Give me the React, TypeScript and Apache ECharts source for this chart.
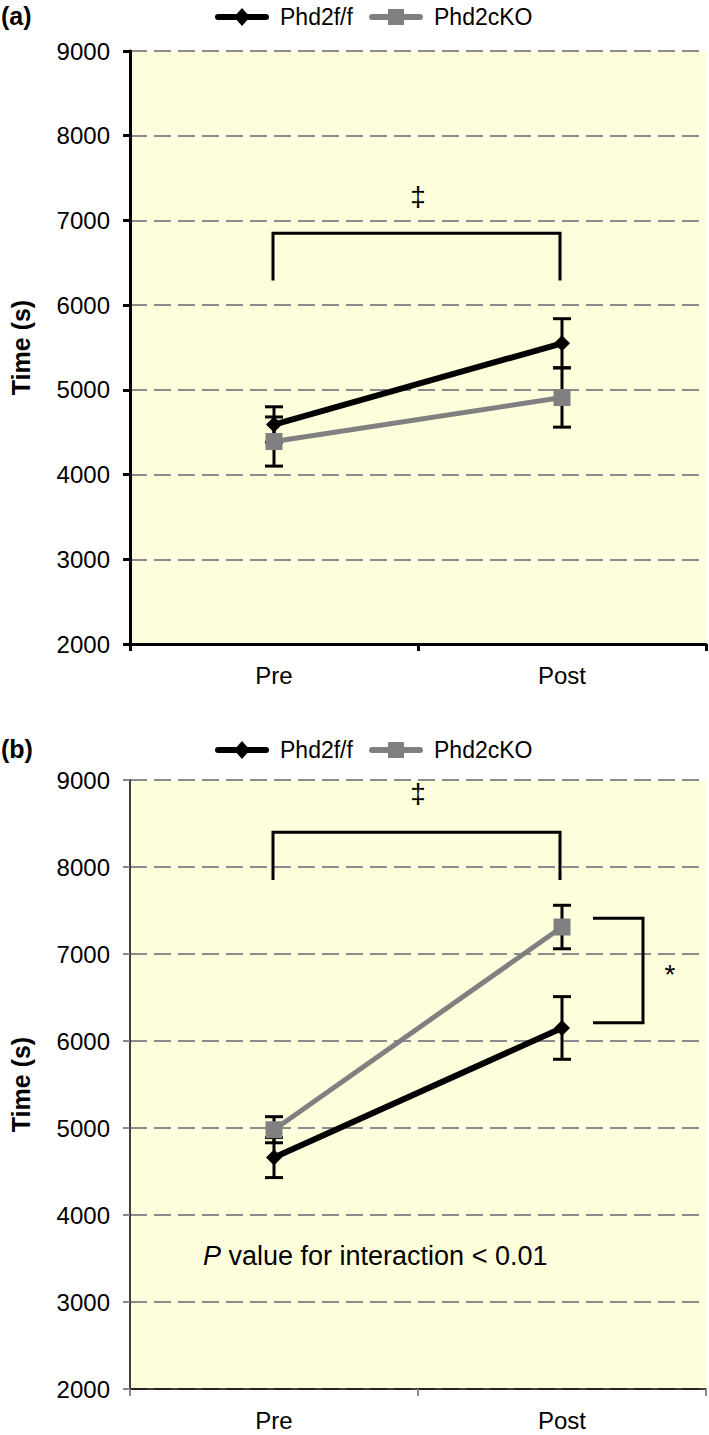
import React, { useEffect, useRef } from 'react';
import * as echarts from 'echarts';

const categories = ['Pre', 'Post'];
const seriesNames = ['Phd2f/f', 'Phd2cKO'];
const yTicksMin = 2000;
const yTicksMax = 9000;
const yTickStep = 1000;

// Panel (a)
const aWT = [4590, 5550];
const aWTErr = [210, 290];
const aKO = [4390, 4910];
const aKOErr = [290, 350];
const aBracket = [6850, 6290]; // top, leg bottom
const aDagger = [7280];

// Panel (b)
const bWT = [4660, 6150];
const bWTErr = [230, 360];
const bKO = [4980, 7310];
const bKOErr = [150, 250];
const bBracket = [8400, 7850];
const bDagger = [8850];
const bSideBracket = [7410, 6210];
const pText = 'P value for interaction < 0.01';

const FONT = 'Liberation Sans, Arial, sans-serif';
const BLACK = '#000000';
const GREY = '#808080';

function errData(vals: number[], errs: number[]) {
  return vals.map((v, i) => [i, v - errs[i], v + errs[i]]);
}

function errorSeries(gridIdx: number, vals: number[], errs: number[]) {
  return {
    type: 'custom',
    xAxisIndex: gridIdx,
    yAxisIndex: gridIdx,
    z: 1,
    silent: true,
    data: errData(vals, errs),
    renderItem: (params: any, api: any) => {
      const x = api.value(0);
      const lo = api.coord([x, api.value(1)]);
      const hi = api.coord([x, api.value(2)]);
      const hw = 9;
      const st = { stroke: BLACK, lineWidth: 3 };
      return {
        type: 'group',
        children: [
          { type: 'line', shape: { x1: lo[0], y1: lo[1], x2: hi[0], y2: hi[1] }, style: st },
          { type: 'line', shape: { x1: lo[0] - hw, y1: lo[1], x2: lo[0] + hw, y2: lo[1] }, style: st },
          { type: 'line', shape: { x1: hi[0] - hw, y1: hi[1], x2: hi[0] + hw, y2: hi[1] }, style: st },
        ],
      };
    },
  };
}

function bracketSeries(gridIdx: number, bracket: number[], dagger: number[]) {
  return {
    type: 'custom',
    xAxisIndex: gridIdx,
    yAxisIndex: gridIdx,
    z: 3,
    silent: true,
    data: [[0, 1, bracket[0], bracket[1], dagger[0]]],
    renderItem: (params: any, api: any) => {
      const l = api.coord([api.value(0), api.value(2)]);
      const r = api.coord([api.value(1), api.value(2)]);
      const lb = api.coord([api.value(0), api.value(3)]);
      const d = api.coord([api.value(0), api.value(4)]);
      const mid = (l[0] + r[0]) / 2;
      return {
        type: 'group',
        children: [
          {
            type: 'polyline',
            shape: { points: [[l[0] - 1, lb[1]], [l[0] - 1, l[1]], [r[0] - 2, r[1]], [r[0] - 2, lb[1]]] },
            style: { stroke: BLACK, lineWidth: 3, fill: null },
          },
          {
            type: 'text',
            x: mid,
            y: d[1],
            style: { text: '‡', fontSize: 28, fontFamily: FONT, fill: BLACK, align: 'center', verticalAlign: 'middle' },
          },
        ],
      };
    },
  };
}

function sideBracketSeries(gridIdx: number, bracket: number[]) {
  return {
    type: 'custom',
    xAxisIndex: gridIdx,
    yAxisIndex: gridIdx,
    z: 3,
    silent: true,
    data: [[1, bracket[0], bracket[1]]],
    renderItem: (params: any, api: any) => {
      const t = api.coord([api.value(0), api.value(1)]);
      const b = api.coord([api.value(0), api.value(2)]);
      const x0 = t[0] + 31;
      const x1 = t[0] + 81;
      return {
        type: 'group',
        children: [
          {
            type: 'polyline',
            shape: { points: [[x0, t[1]], [x1, t[1]], [x1, b[1]], [x0, b[1]]] },
            style: { stroke: BLACK, lineWidth: 3, fill: null },
          },
          {
            type: 'text',
            x: x1 + 27,
            y: (t[1] + b[1]) / 2 + 4,
            style: { text: '*', fontSize: 28, fontFamily: FONT, fill: BLACK, align: 'center', verticalAlign: 'middle' },
          },
        ],
      };
    },
  };
}

function lineSeries(gridIdx: number, name: string, vals: number[], isKO: boolean) {
  return {
    type: 'line',
    name,
    xAxisIndex: gridIdx,
    yAxisIndex: gridIdx,
    z: 2,
    data: vals,
    symbol: isKO ? 'rect' : 'diamond',
    symbolSize: isKO ? 17 : 16,
    showAllSymbol: true,
    lineStyle: { color: isKO ? GREY : BLACK, width: isKO ? 5 : 6 },
    itemStyle: { color: isKO ? GREY : BLACK },
    emphasis: { disabled: true },
  };
}

function xAxisFor(gridIdx: number, thick: boolean) {
  return {
    type: 'category',
    gridIndex: gridIdx,
    data: categories,
    boundaryGap: true,
    axisLine: { show: true, lineStyle: { color: BLACK, width: thick ? 3 : 1.5 } },
    axisTick: { show: true, length: 7, lineStyle: { color: thick ? BLACK : '#888888', width: thick ? 3 : 2 } },
    axisLabel: { fontSize: 24, color: BLACK, fontFamily: FONT, margin: 19 },
    splitLine: { show: false },
  };
}

function yAxisFor(gridIdx: number, thick: boolean) {
  return {
    type: 'value',
    gridIndex: gridIdx,
    min: yTicksMin,
    max: yTicksMax,
    interval: yTickStep,
    name: 'Time (s)',
    nameLocation: 'middle',
    nameGap: 97,
    nameRotate: 90,
    nameTextStyle: { fontSize: 25, fontWeight: 'bold', color: BLACK, fontFamily: FONT },
    axisLine: { show: true, lineStyle: { color: BLACK, width: thick ? 3 : 1.5 } },
    axisTick: { show: true, length: 7, lineStyle: { color: thick ? BLACK : '#888888', width: thick ? 3 : 2 } },
    axisLabel: { fontSize: 24, color: BLACK, fontFamily: FONT, margin: 20, formatter: (v: number) => String(v) },
    splitLine: { show: true, lineStyle: { color: '#8c8c8c', width: 2, type: [17, 7] } },
  };
}

function legendGraphics(cy: number) {
  const items: any[] = [];
  const defs = [
    { name: seriesNames[0], color: BLACK, x: 218, sym: 'diamond' },
    { name: seriesNames[1], color: GREY, x: 372, sym: 'rect' },
  ];
  defs.forEach((d) => {
    items.push({
      type: 'line',
      shape: { x1: d.x, y1: cy, x2: d.x + 48, y2: cy },
      style: { stroke: d.color, lineWidth: 6, lineCap: 'round' },
    });
    if (d.sym === 'diamond') {
      const c = d.x + 24;
      items.push({
        type: 'polygon',
        shape: { points: [[c, cy - 9], [c + 8, cy], [c, cy + 9], [c - 8, cy]] },
        style: { fill: d.color },
      });
    } else {
      items.push({
        type: 'rect',
        shape: { x: d.x + 16, y: cy - 8, width: 16, height: 16 },
        style: { fill: d.color },
      });
    }
    items.push({
      type: 'text',
      x: d.x + 62,
      y: cy,
      style: { text: d.name, fontSize: 23, fontFamily: FONT, fill: BLACK, verticalAlign: 'middle' },
    });
  });
  return items;
}

export default function App() {
  const ref = useRef<HTMLDivElement>(null);
  useEffect(() => {
    document.body.style.margin = '0';
    const chart = echarts.init(ref.current as HTMLDivElement, null, { renderer: 'svg' });
    const option: any = {
      animation: false,
      backgroundColor: '#ffffff',
      textStyle: { fontFamily: FONT },
      grid: [
        { left: 128, top: 51, width: 578, height: 593, show: true, backgroundColor: '#FFFEDC', borderWidth: 0 },
        { left: 128, top: 780, width: 578, height: 609, show: true, backgroundColor: '#FFFEDC', borderWidth: 0 },
      ],
      xAxis: [xAxisFor(0, true), xAxisFor(1, false)],
      yAxis: [yAxisFor(0, true), yAxisFor(1, false)],
      series: [
        errorSeries(0, aWT, aWTErr),
        errorSeries(0, aKO, aKOErr),
        lineSeries(0, seriesNames[0], aWT, false),
        lineSeries(0, seriesNames[1], aKO, true),
        bracketSeries(0, aBracket, aDagger),
        errorSeries(1, bWT, bWTErr),
        errorSeries(1, bKO, bKOErr),
        lineSeries(1, seriesNames[1], bKO, true),
        lineSeries(1, seriesNames[0], bWT, false),
        bracketSeries(1, bBracket, bDagger),
        sideBracketSeries(1, bSideBracket),
      ],
      graphic: [
        ...legendGraphics(17),
        ...legendGraphics(750),
        { type: 'text', left: 1, top: 3, style: { text: '(a)', fontSize: 25, fontWeight: 'bold', fontFamily: FONT, fill: BLACK } },
        { type: 'text', left: 1, top: 736, style: { text: '(b)', fontSize: 25, fontWeight: 'bold', fontFamily: FONT, fill: BLACK } },
        {
          type: 'text',
          left: 203,
          top: 1242,
          style: {
            text: '{i|P} ' + pText.slice(2),
            fontSize: 27,
            fontFamily: FONT,
            fill: BLACK,
            rich: { i: { fontStyle: 'italic', fontSize: 27, fontFamily: FONT, fill: BLACK } },
          },
        },
      ],
    };
    chart.setOption(option);
    return () => chart.dispose();
  }, []);
  return <div ref={ref} style={{ width: 709, height: 1435 }} />;
}
